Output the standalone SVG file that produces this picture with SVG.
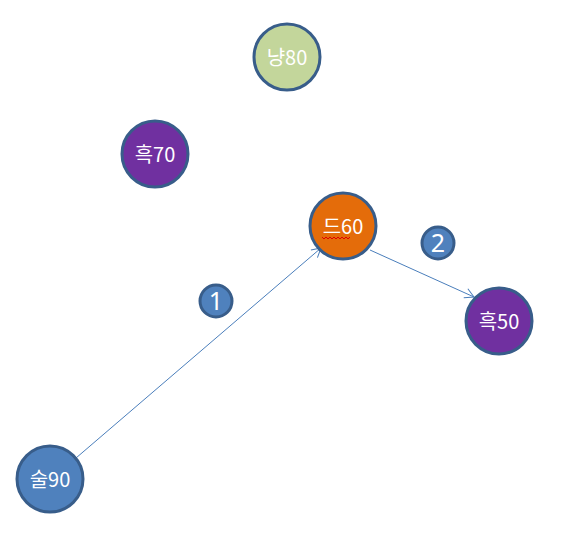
<svg xmlns="http://www.w3.org/2000/svg" width="571" height="554" viewBox="0 0 571 554">
<style>
.n{stroke:#385D8A;stroke-width:3}
.t{font-family:"Noto Sans CJK KR","Noto Sans",sans-serif;font-size:20px;fill:#fff;text-anchor:middle;dominant-baseline:central}
.b{font-family:"Noto Sans","Noto Sans CJK KR",sans-serif;font-size:25px;fill:#fff;text-anchor:middle;dominant-baseline:central}
.e{stroke:#4A7EBB;stroke-width:1;fill:none}
</style>
<defs>
<marker id="a" markerWidth="12" markerHeight="12" refX="10" refY="6" orient="auto" markerUnits="userSpaceOnUse">
<path d="M1,1 L10,6 L1,11" fill="none" stroke="#4A7EBB" stroke-width="1"/>
</marker>
</defs>
<rect width="571" height="554" fill="#fff"/>
<g id="connectors">
<line class="e" x1="76" y1="458" x2="321" y2="248" marker-end="url(#a)"/>
<line class="e" x1="370" y1="250" x2="474" y2="297" marker-end="url(#a)"/>
</g>
<g id="n80"><circle class="n" cx="287" cy="57" r="33" fill="#C3D69B"/><text class="t" x="287" y="56">냥80</text></g>
<g id="n70"><circle class="n" cx="155" cy="154" r="33" fill="#7030A0"/><text class="t" x="155" y="153">흑70</text></g>
<g id="n60"><circle class="n" cx="343" cy="226" r="33" fill="#E46C0A"/><text class="t" x="343" y="225">드60</text>
<path d="M322,237 l2,2 l2,-2 l2,2 l2,-2 l2,2 l2,-2 l2,2 l2,-2 l2,2 l2,-2 l2,2 l2,-2 l2,2 l2,-2" fill="none" stroke="#E00000" stroke-width="1"/></g>
<g id="n50"><circle class="n" cx="499" cy="321" r="33" fill="#7030A0"/><text class="t" x="499" y="320">흑50</text></g>
<g id="n90"><circle class="n" cx="50" cy="479" r="33" fill="#4F81BD"/><text class="t" x="50" y="478">술90</text></g>
<g id="b1"><circle class="n" cx="216" cy="301" r="16" fill="#4F81BD"/><text class="b" x="216" y="300">1</text></g>
<g id="b2"><circle class="n" cx="438" cy="243" r="16" fill="#4F81BD"/><text class="b" x="438" y="242">2</text></g>
</svg>
